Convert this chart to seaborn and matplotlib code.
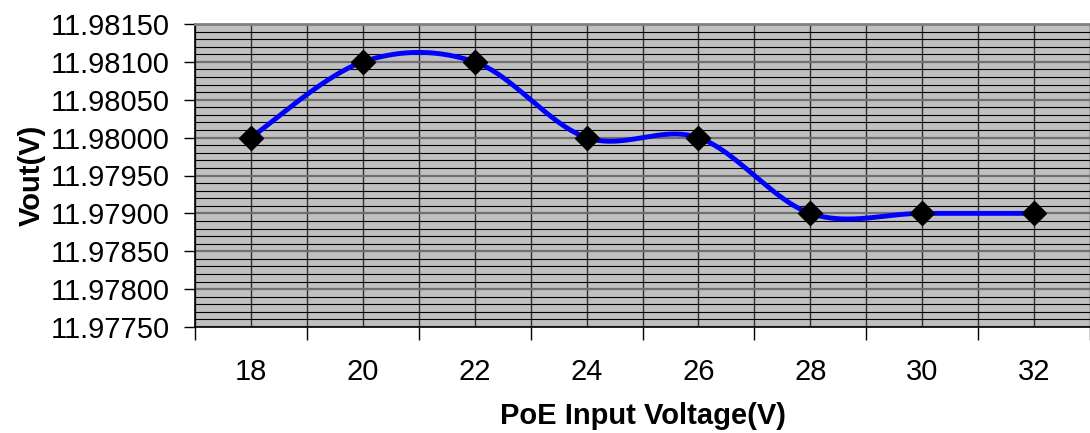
import numpy as np
import pandas as pd
import matplotlib
matplotlib.use("Agg")
import matplotlib.pyplot as plt
import seaborn as sns
from matplotlib.ticker import MultipleLocator, FormatStrFormatter

# Data
voltages = [18, 20, 22, 24, 26, 28, 30, 32]
vout = [11.98000, 11.98100, 11.98100, 11.98000, 11.98000, 11.97900, 11.97900, 11.97900]

sns.set_theme(style="white")
plt.rcParams['font.family'] = ['Liberation Sans', 'DejaVu Sans']
plt.rcParams['text.color'] = 'black'
plt.rcParams['axes.labelcolor'] = 'black'
plt.rcParams['xtick.color'] = 'black'
plt.rcParams['ytick.color'] = 'black'

fig = plt.figure(figsize=(10.9, 4.33), dpi=100)
ax = fig.add_axes([195/1090, 1-327/433, 1-195/1090, 303/433])
ax.set_facecolor('#C0C0C0')

xs = np.arange(len(voltages), dtype=float)
ys = np.array(vout)

# Excel-style smoothed curve (cardinal Bezier through the points)
def smooth(x, y, n=40):
    px, py = [], []
    N = len(x)
    for i in range(N - 1):
        x0, y0 = (x[i-1], y[i-1]) if i > 0 else (x[i], y[i])
        x1, y1 = x[i], y[i]
        x2, y2 = x[i+1], y[i+1]
        x3, y3 = (x[i+2], y[i+2]) if i + 2 < N else (x[i+1], y[i+1])
        c1x, c1y = x1 + (x2 - x0) / 6, y1 + (y2 - y0) / 6
        c2x, c2y = x2 - (x3 - x1) / 6, y2 - (y3 - y1) / 6
        t = np.linspace(0, 1, n, endpoint=(i == N - 2))
        bx = (1-t)**3*x1 + 3*(1-t)**2*t*c1x + 3*(1-t)*t**2*c2x + t**3*x2
        by = (1-t)**3*y1 + 3*(1-t)**2*t*c1y + 3*(1-t)*t**2*c2y + t**3*y2
        px.extend(bx); py.extend(by)
    return np.array(px), np.array(py)

cx, cy = smooth(xs, ys)
curve = pd.DataFrame({"x": cx, "y": cy})
pts = pd.DataFrame({"x": xs, "y": ys})

# Grid
ax.set_xlim(-0.5, len(voltages) - 0.5)
ax.set_ylim(11.9775, 11.9815)
ax.yaxis.set_major_locator(MultipleLocator(0.0005))
ax.yaxis.set_minor_locator(MultipleLocator(0.0001))
ax.yaxis.set_major_formatter(FormatStrFormatter('%.5f'))
ax.set_xticks(xs)
ax.set_xticklabels([str(v) for v in voltages])
ax.set_xticks(np.arange(-0.5, len(voltages), 1.0), minor=True)

ax.grid(which='minor', axis='y', color='black', lw=0.8)
ax.grid(which='major', axis='y', color='#707070', lw=1.6)
ax.grid(which='both', axis='x', color='#303030', lw=1.0)
ax.set_axisbelow(True)

sns.lineplot(data=curve, x="x", y="y", ax=ax, color='#0000FF', lw=3.5, sort=False, zorder=3)
sns.scatterplot(data=pts, x="x", y="y", ax=ax, marker='D', s=150, color='black',
                edgecolor='black', zorder=4)

ax.tick_params(axis='x', which='major', length=0, pad=22, labelsize=21)
ax.tick_params(axis='x', which='minor', length=9, width=1, color='black', direction='out')
ax.tick_params(axis='y', which='major', length=8, width=1, color='black', direction='out',
               labelsize=21, pad=10)
ax.tick_params(axis='y', which='minor', length=0)
ax.tick_params(axis='x', which='minor', bottom=True)
ax.tick_params(axis='y', which='major', left=True)

for s in ['left', 'bottom']:
    ax.spines[s].set_color('black')
    ax.spines[s].set_linewidth(1.2)
ax.spines['top'].set_color('#808080')
ax.spines['top'].set_linewidth(2)
ax.spines['right'].set_visible(False)

ax.set_xlabel('PoE Input Voltage(V)', fontsize=21, fontweight='bold', labelpad=12)
ax.set_ylabel('Vout(V)', fontsize=21, fontweight='bold', labelpad=4)

fig.savefig('out.png', dpi=100)
